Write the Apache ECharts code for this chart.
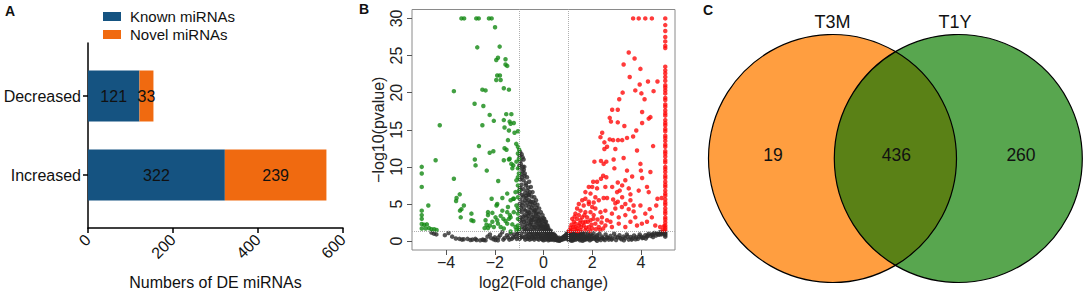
<!DOCTYPE html>
<html><head><meta charset="utf-8">
<script src="https://cdn.jsdelivr.net/npm/echarts@6/dist/echarts.min.js"></script>
<style>html,body{margin:0;padding:0;background:#fff}#c{width:1084px;height:294px}</style>
</head><body><div id="c"></div>
<script>
// ---- Panel A data ----
const barCategories = ['Increased', 'Decreased'];
const knownCounts = [322, 121];
const novelCounts = [239, 33];
const barSeriesNames = ['Known miRNAs', 'Novel miRNAs'];
const barTicks = [0, 200, 400, 600];

// ---- Panel B data ----
const volcanoXTicks = [-4, -2, 0, 2, 4];
const volcanoYTicks = [0, 5, 10, 15, 20, 25, 30];
const foldCutoffs = [-1, 1];
const pCutoffs = [1.3];

const greenPts = [[-3.37,30],[-3.26,30],[-2.76,30],[-2.66,30],[-2.24,30],[-2.13,30],[-1.99,28.8],[-2.72,26.1],[-1.80,26.2],[-1.94,24.4],[-1.87,24.7],[-1.56,24.5],[-1.56,23.8],[-1.49,23.6],[-1.90,22.3],[-1.79,22.3],[-1.94,21.7],[-1.76,21.7],[-2.51,20.4],[-2.38,20.3],[-1.63,20.6],[-1.42,20.4],[-3.68,20.2],[-2.83,18.5],[-2.47,18.2],[-2.21,17.0],[-1.53,17.1],[-1.32,17.1],[-2.51,15.6],[-2.04,16.2],[-1.63,16.3],[-1.39,16.1],[-1.22,15.9],[-4.26,15.6],[-1.60,15.3],[-1.42,14.9],[-1.19,14.6],[-1.05,14.8],[-1.35,15.8],[-1.46,13.6],[-2.65,12.8],[-1.12,13.1],[-1.05,12.7],[-1.00,12.3],[-2.06,12.1],[-2.21,11.9],[-1.60,12.5],[-1.52,12.3],[-2.82,11.0],[-2.79,10.2],[-4.43,10.9],[-1.63,10.9],[-1.42,11.0],[-1.32,10.4],[-1.39,11.1],[-1.05,11.8],[-1.01,11.1],[-1.11,10.7],[-1.05,9.8],[-1.28,9.8],[-1.24,10.2],[-2.33,9.5],[-5.0,10.0],[-5.0,9.1],[-3.68,8.4],[-1.86,8.1],[-1.05,8.6],[-1.11,8.2],[-1.01,9.1],[-5.0,7.3],[-1.05,7.5],[-1.01,6.8],[-1.15,6.6],[-1.05,5.9],[-1.24,5.7],[-3.44,6.3],[-3.57,5.8],[-3.59,5.4],[-2.13,5.7],[-1.90,5.0],[-1.93,4.8],[-1.69,5.8],[-1.49,6.4],[-1.35,5.5],[-1.46,4.6],[-1.69,4.1],[-1.49,3.9],[-1.22,5.7],[-1.11,4.8],[-1.05,4.4],[-1.05,3.7],[-1.22,3.9],[-1.35,3.2],[-1.05,3.0],[-3.27,4.8],[-3.37,4.3],[-3.43,4.1],[-4.73,4.8],[-3.40,3.2],[-2.96,3.7],[-2.96,2.8],[-2.88,2.7],[-5.0,4.1],[-5.0,3.5],[-5.0,3.0],[-5.0,2.3],[-4.90,2.2],[-4.79,2.25],[-5.0,1.7],[-4.84,1.7],[-4.70,1.75],[-4.60,1.6],[-4.49,1.6],[-4.39,1.5],[-2.28,3.9],[-2.10,3.8],[-2.28,3.5],[-2.38,2.8],[-2.34,2.2],[-2.20,2.1],[-2.28,1.75],[-2.42,1.75],[-2.10,2.6],[-1.97,3.2],[-1.90,2.8],[-1.76,3.4],[-1.65,3.0],[-1.87,2.35],[-2.04,1.9],[-1.76,1.9],[-1.56,2.7],[-1.42,3.0],[-1.38,3.5],[-1.49,2.35],[-1.28,2.25],[-1.63,1.7],[-1.15,1.9],[-1.05,2.1],[-1.01,1.7],[-1.11,1.5],[-1.35,1.3]];

const redPts = [[3.68,30],[3.91,30],[4.18,30],[4.45,30],[3.50,25.4],[3.74,24.6],[3.29,23.8],[3.98,23.2],[3.54,22.1],[4.29,21.5],[4.68,21.5],[3.95,21.1],[4.52,20.2],[3.77,20.3],[4.02,19.9],[3.25,20.0],[3.11,19.1],[4.15,19.1],[2.82,17.7],[3.05,17.7],[4.05,17.4],[4.32,16.5],[4.39,16.7],[2.72,16.6],[2.77,16.1],[3.05,16.0],[3.32,15.5],[4.05,15.9],[3.81,14.9],[2.41,14.6],[2.34,14.0],[2.72,13.7],[2.86,13.6],[3.06,13.6],[3.23,13.6],[3.43,13.9],[3.68,14.1],[2.50,13.3],[2.61,12.7],[2.50,12.4],[2.95,12.4],[3.84,12.2],[4.50,12.8],[3.29,11.2],[2.09,10.7],[2.36,10.8],[2.47,10.4],[2.58,10.7],[2.88,11.0],[2.91,9.8],[3.43,9.5],[3.98,10.4],[4.00,9.5],[4.39,9.3],[2.45,8.8],[2.58,8.6],[2.36,8.4],[3.64,8.7],[4.05,8.5],[2.04,8.0],[2.20,8.0],[3.05,7.9],[3.23,7.5],[3.36,8.2],[1.86,7.3],[2.00,7.3],[2.20,7.1],[2.54,7.3],[2.82,7.3],[3.13,6.8],[3.02,6.6],[3.50,7.1],[3.57,6.3],[3.91,6.8],[4.25,7.3],[4.32,6.6],[1.72,6.6],[1.93,6.4],[2.13,5.9],[1.72,5.7],[1.86,5.3],[2.06,5.2],[2.27,5.5],[2.47,5.8],[2.61,5.8],[2.86,5.6],[3.05,5.3],[3.23,5.9],[3.36,5.0],[3.57,5.5],[3.70,4.8],[3.98,4.8],[4.68,5.7],[4.63,4.8],[4.36,4.3],[1.59,5.5],[1.45,5.0],[1.65,4.8],[1.86,5.0],[2.0,4.6],[2.13,4.4],[1.38,4.4],[1.52,4.1],[1.72,3.9],[1.93,3.9],[1.31,3.7],[1.45,3.5],[1.59,3.2],[1.79,3.2],[2.06,3.5],[2.34,3.9],[1.38,3.0],[1.52,2.8],[1.72,2.6],[1.93,2.8],[1.31,2.35],[1.45,2.1],[1.65,2.1],[1.86,1.9],[2.13,2.35],[1.31,1.9],[1.38,1.7],[1.52,1.5],[1.72,1.5],[2.0,1.7],[2.27,1.9],[2.54,2.1],[2.75,2.6],[2.81,1.9],[3.09,2.35],[3.36,1.9],[3.57,2.6],[3.84,2.1],[4.04,2.35],[4.25,2.6],[4.59,2.1],[4.79,1.9],[2.95,5.1],[3.22,4.6],[3.5,4.3],[3.7,4.0],[4.18,3.7],[4.45,3.2],[2.54,4.1],[2.81,3.7],[3.09,3.2],[3.36,3.5],[3.77,3.2],[2.95,4.4],[2.4,3.2],[2.61,2.8],[1.05,1.4],[1.10,1.8],[1.15,2.2],[1.20,1.5],[1.25,2.6],[1.10,1.4],[1.18,3.0],[1.22,1.9],[1.28,3.3],[1.35,1.4],[1.42,1.35],[1.48,2.4],[1.55,1.9],[1.62,2.5],[1.68,3.5],[1.75,1.8],[1.82,2.6],[1.90,1.4],[1.97,2.2],[2.05,3.0],[2.15,1.6],[2.22,2.9],[2.32,1.5],[2.45,1.7],[2.38,2.5],[4.9,1.5],[4.95,2.0],[4.85,5.8],[5,30],[5,29.1],[5,28.3],[5,27.5],[5,26.9],[5,26.3],[5,26.0],[5,23.5],[5,23.0],[5,22.6],[5,22.1],[5,21.6],[5,21.0],[5,20.7],[5,20.3],[5,19.9],[5,19.3],[5,19.0],[5,18.4],[5,18.1],[5,17.6],[5,17.2],[5,16.9],[5,16.3],[5,15.9],[5,15.6],[5,15.1],[5,14.8],[5,14.2],[5,13.9],[5,13.5],[5,13.0],[5,12.7],[5,12.1],[5,11.8],[5,11.4],[5,10.9],[5,10.6],[5,10.0],[5,9.7],[5,9.3],[5,8.8],[5,8.5],[5,8.0],[5,7.6],[5,7.3],[5,6.8],[5,6.4],[5,6.1],[5,5.6],[5,5.2],[5,4.9],[5,4.4],[5,4.0],[5,3.7],[5,3.2],[5,2.9],[5,2.5],[5,2.1],[5,1.8],[5,1.5]];

const grayPts = [[-4.5,1.0],[-3.9,1.1],[-3.75,0.6],[-3.6,0.35],[-3.45,0.3],[-3.28,0.25],[-3.12,0.3],[-2.92,0.2],[-2.75,0.15],[-2.5,0.2],[-2.38,0.1],[-2.2,0.9],[-2.15,0.4],[-2.0,0.5],[-1.97,0.15],[-1.87,0.1],[-1.78,0.8],[-1.7,1.2],[-1.6,0.4],[-1.5,0.8],[-1.4,0.2],[-1.35,1.0],[-1.25,0.5],[-1.2,0.9],[-1.1,0.3],[-1.05,1.2],[-1.0,0.7],[-2.3,0.6],[-2.6,0.1],[-3.0,0.15],
[-0.96,12.0],[-0.90,11.7],[-0.86,11.3],[-0.82,11.0],[-0.93,10.4],[-0.79,10.0],[-0.86,9.4],[-0.77,9.1],[-0.68,8.6],[-0.82,8.2],[-0.59,8.0],[-0.72,7.5],[-0.52,7.3],[-0.66,6.8],[-0.45,6.6],[-0.59,6.2],[-0.38,5.9],[-0.31,5.5],[-0.52,5.3],[-0.25,4.9],[-0.72,4.8],[-0.18,4.4],[-0.11,3.9],[-0.38,4.1],[-0.66,3.7],[-0.04,3.5],[0.03,3.0],[-0.25,3.0],[-0.52,2.8],[0.10,2.6],[0.16,2.1],[-0.11,2.1],[-0.38,1.9],[-0.79,1.7],[0.30,1.4],[0.03,1.4],[-0.25,1.2],[0.44,0.9],[0.16,0.8],[-0.11,0.6],[-0.52,0.8],[0.64,0.45],[0.71,0.2],[0.85,0.45],[0.98,0.8],[1.05,1.2],[-1.07,1.0],[-0.93,0.5],[-0.66,0.3],[-0.38,0.2],[-0.04,0.2],[0.3,0.3],[0.5,0.2],
[-0.98,11.5],[-0.95,10.8],[-0.97,9.8],[-0.92,9.0],[-0.96,8.3],[-0.9,7.6],[-0.94,6.9],[-0.88,6.2],[-0.95,5.6],[-0.85,5.2],[-0.93,4.5],[-0.8,4.3],[-0.9,3.9],[-0.78,3.5],[-0.95,3.2],[-0.85,2.9],[-0.7,2.7],[-0.92,2.4],[-0.75,2.2],[-0.6,2.4],[-0.88,1.9],[-0.65,1.6],[-0.5,1.9],[-0.8,1.3],[-0.55,1.2],[-0.4,1.5],[-0.7,0.9],[-0.45,0.9],[-0.3,1.0],[-0.85,0.6],[-0.6,0.5],[-0.35,0.6],[-0.2,0.7],[-0.75,0.2],[-0.5,0.3],[-0.25,0.3],[-0.1,0.4],[0.05,0.5],[0.15,0.3],[0.25,0.5],[0.35,0.3],[0.45,0.4],[0.2,0.1],[0.0,0.1],
[-0.7,5.8],[-0.62,6.3],[-0.55,5.0],[-0.48,4.5],[-0.65,4.0],[-0.52,3.6],[-0.42,4.8],[-0.35,4.2],[-0.4,3.3],[-0.3,3.7],[-0.22,3.2],[-0.45,2.8],[-0.32,2.6],[-0.18,2.8],[-0.1,2.5],[-0.55,2.2],[-0.25,2.1],[-0.05,2.0],[0.05,2.3],[0.1,1.8],[-0.15,1.6],[0.02,1.5],[0.2,1.6],[0.28,1.2],[0.12,1.1],[-0.08,1.1],[0.38,0.9],[0.22,0.8],[0.05,0.8],[0.5,0.6],[0.3,0.7],[-0.72,7.8],[-0.78,8.8],[-0.85,10.0],[-0.82,7.0],[-0.75,6.5],[-0.6,4.6],[-0.7,3.2],[-0.58,3.0],
[0.55,0.1],[0.65,0.05],[0.7,0.3],[0.8,0.5],[0.88,0.7],[0.95,1.0],[1.0,1.2],
[1.02,0.3],[1.05,0.7],[1.08,1.0],[1.1,0.2],[1.12,0.5],[1.15,0.9],[1.18,1.2],[1.2,0.1],[1.22,0.6],[1.25,0.35],[1.28,1.0],[1.3,0.8],[1.33,0.2],[1.36,0.5],[1.4,1.1],[1.42,0.7],[1.45,0.3],[1.48,0.9],[1.5,0.1],[1.53,0.55],[1.56,1.2],[1.6,0.35],[1.63,0.8],[1.66,0.15],[1.7,1.0],[1.73,0.5],[1.76,0.25],[1.8,0.75],[1.83,1.15],[1.86,0.4],[1.9,0.1],[1.93,0.9],[1.96,0.6],[2.0,0.3],[2.05,1.1],[2.1,0.5],[2.15,0.2],[2.2,0.8],[2.25,0.4],[2.3,1.0],[2.35,0.15],[2.4,0.6],[2.48,0.3],[2.55,0.9],[2.6,0.5],[2.68,0.2],[2.75,0.7],[2.82,0.35],[2.9,1.0],[2.98,0.15],[3.05,0.5],[3.12,0.8],[3.2,0.25],[3.28,0.6],[3.35,0.4],[3.42,0.9],[3.5,0.2],[3.58,0.55],[3.65,0.35],[3.72,0.75],[3.8,0.5],[3.88,0.3],[3.95,0.9],[4.02,0.6],[4.1,0.45],[4.18,0.8],[4.25,0.6],[4.32,1.0],[4.4,0.7],[4.48,0.85],[4.55,1.1],[4.62,0.75],[4.7,0.95],[4.78,1.2],[4.85,0.9],[4.92,1.05],[5.0,0.6],[5.0,0.8],[5.0,1.0],[5.0,1.2],[4.95,1.25],[4.88,1.15],[4.5,0.55],[4.2,0.35],[3.3,0.1],[2.2,0.05],[1.6,0.05],[1.15,0.05],
[-0.99,10.2],[-0.97,7.2],[-0.99,6.5],[-0.98,5.0],[-0.99,4.1],[-0.97,2.8],[-0.99,1.5],[-0.98,0.3],[-0.91,1.1],[-0.89,8.6],[-0.87,4.8],[-0.83,3.3],[-0.83,6.0],[-0.81,9.6],[-0.8,2.6],[-0.78,0.5],[-0.76,5.5],[-0.74,4.1],[-0.73,1.5],[-0.71,6.1],[-0.69,2.0],[-0.67,5.2],[-0.66,0.7],[-0.64,3.4],[-0.63,7.2],[-0.61,1.2],[-0.6,5.5],[-0.58,3.8],[-0.57,0.2],[-0.56,6.6],[-0.54,1.6],[-0.53,4.2],[-0.51,2.5],[-0.49,6.0],[-0.48,0.6],[-0.47,3.2],[-0.46,1.3],[-0.44,5.3],[-0.43,2.2],[-0.41,0.4],[-0.4,3.9],[-0.38,2.9],[-0.37,1.0],[-0.36,5.1],[-0.34,1.8],[-0.33,3.4],[-0.31,0.5],[-0.29,4.5],[-0.28,2.4],[-0.27,1.5],[-0.26,3.9],[-0.24,0.9],[-0.23,2.7],[-0.21,1.9],[-0.2,3.6],[-0.19,0.2],[-0.17,1.2],[-0.16,2.3],[-0.14,3.1],[-0.13,0.8],[-0.12,1.8],[-0.09,2.9],[-0.08,0.3],[-0.06,1.4],[-0.05,2.6],[-0.03,0.7],[-0.02,1.9],[0.0,3.1],[0.01,1.1],[0.03,0.4],[0.04,2.0],[0.06,1.6],[0.07,2.6],[0.08,0.2],[0.09,1.3],[0.11,0.7],[0.13,2.1],[0.14,1.5],[0.16,0.5],[0.18,1.2],[0.19,1.8],[0.21,0.3],[0.23,1.4],[0.24,0.9],[0.26,0.2],[0.27,1.0],[0.29,0.6],[0.31,1.1],[0.33,0.2],[0.34,0.8],[0.36,0.5],[0.37,1.0],[0.39,0.3],[0.41,0.6],[0.42,0.8],[0.43,0.15],[0.46,0.5],[0.48,0.25],[0.49,0.7],[0.52,0.4],[0.54,0.3],[0.57,0.15],[0.58,0.4],[0.61,0.1],[0.63,0.2],[0.68,0.1],[0.73,0.25],[0.76,0.4],[0.78,0.2],[0.82,0.35],[0.83,0.6],[0.86,0.3],[0.9,0.45],[0.92,0.8],[0.94,0.35],[0.97,0.6],[0.99,0.4],[1.01,0.95],[1.03,0.15],[1.04,0.5],[1.07,0.35],[1.09,0.75],[1.11,1.1],[1.13,0.3],[1.16,0.65],[1.19,0.4],[1.21,0.9],[1.24,0.15],[1.26,0.75],[1.29,0.5],[1.31,1.2],[1.34,0.65],[1.38,0.3],[1.39,0.85],[1.44,1.0],[1.46,0.55],[1.51,0.8],[1.54,0.25],[1.58,0.65],[1.62,1.05],[1.67,0.5],[1.71,0.25],[1.78,0.55],[1.82,0.3],[1.88,0.7],[1.95,0.25],[2.02,0.7],[2.08,0.35],[2.18,0.6],[2.28,0.3],[2.42,0.4],[2.52,0.15],[2.65,0.45],[2.8,0.2],[2.95,0.6],[3.15,0.4],[3.45,0.6],[3.62,0.2],[3.78,0.25],[3.92,0.6],[4.05,0.4],[4.28,0.75],[4.45,0.9],[4.65,1.0],[4.75,0.85],[4.82,1.0],[4.9,1.2],[4.97,1.1],[-1.15,0.6],[-1.3,0.3],[-1.45,0.5],[-1.65,0.2],[-1.85,0.5],[-2.05,0.25],[-2.45,0.15],[-2.8,0.3],[-3.35,0.2],[-4.05,0.8],[-4.6,1.15],[-4.4,0.9]];

// ---- Panel C data ----
const vennSets = ['T3M', 'T1Y'];
const vennCounts = [19, 436, 260]; // T3M only, shared, T1Y only

const FONT = '"Liberation Sans", Arial, sans-serif';
const colKnown = '#155381', colNovel = '#F06A10';

// Venn geometry (layout only)
const L = {cx: 832.5, cy: 158.5, r: 124}, R = {cx: 958.3, cy: 158.5, r: 124};
const dd = R.cx - L.cx, ix = L.cx + dd / 2, iy = Math.sqrt(L.r * L.r - (dd / 2) * (dd / 2));
const lensPath = `M ${ix} ${L.cy - iy} A ${L.r} ${L.r} 0 0 1 ${ix} ${L.cy + iy} A ${R.r} ${R.r} 0 0 1 ${ix} ${L.cy - iy} Z`;

function txt(text, x, y, size, bold) {
  return {type: 'text', silent: true, style: {text: String(text), x, y, fill: '#111',
    font: (bold ? 'bold ' : '') + size + 'px ' + FONT, align: 'center', verticalAlign: 'middle',
    textAlign: 'center', textVerticalAlign: 'middle'}};
}

function renderVenn(params, api) {
  return {
    type: 'group',
    children: [
      {type: 'circle', shape: {cx: L.cx, cy: L.cy, r: L.r}, style: {fill: '#FF9E40'}},
      {type: 'circle', shape: {cx: R.cx, cy: R.cy, r: R.r}, style: {fill: '#58A64F'}},
      {type: 'path', shape: {pathData: lensPath}, style: {fill: '#5A8116'}},
      {type: 'circle', shape: {cx: L.cx, cy: L.cy, r: L.r}, style: {fill: 'none', stroke: '#000', lineWidth: 1.2}},
      {type: 'circle', shape: {cx: R.cx, cy: R.cy, r: R.r}, style: {fill: 'none', stroke: '#000', lineWidth: 1.2}},
      txt(vennSets[0], L.cx, 22, 18, false),
      txt(vennSets[1], 955, 22, 18, false),
      txt(vennCounts[0], 773, 155, 17.5, false),
      txt(vennCounts[1], ix + 1, 155, 17.5, false),
      txt(vennCounts[2], 1021, 155, 17.5, false)
    ]
  };
}

const chart = echarts.init(document.getElementById('c'), null, {renderer: 'svg'});
chart.setOption({
  animation: false,
  textStyle: {fontFamily: FONT},
  legend: {
    data: barSeriesNames, orient: 'vertical', left: 103, top: 9, padding: 0, itemWidth: 18, itemHeight: 9,
    itemGap: 3, icon: 'rect', textStyle: {fontSize: 15, color: '#111', padding: [0, 0, 0, 4]}
  },
  grid: [
    {left: 88, top: 56.5, width: 255, height: 158, containLabel: false, outerBoundsMode: 'none'},
    {left: 88, top: 43, width: 255, height: 185, containLabel: false, outerBoundsMode: 'none'},
    {left: 412, top: 9.5, width: 263, height: 240.5, show: true, borderColor: '#8a8a8a', borderWidth: 1,
     backgroundColor: 'transparent', containLabel: false, outerBoundsMode: 'none'}
  ],
  xAxis: [
    {gridIndex: 0, type: 'value', min: barTicks[0], max: barTicks[barTicks.length - 1], interval: 200, offset: 13.5,
     axisLine: {show: true, onZero: false, lineStyle: {color: '#000', width: 1.5}},
     axisTick: {show: true, length: 5, lineStyle: {color: '#000', width: 1.5}},
     axisLabel: {rotate: 45, fontSize: 16, color: '#111', margin: 9},
     splitLine: {show: false},
     name: 'Numbers of DE miRNAs', nameLocation: 'middle', nameGap: 46, nameTextStyle: {fontSize: 16, color: '#111'}},
    {gridIndex: 1, type: 'value', min: 0, max: 600, show: false},
    {gridIndex: 2, type: 'value', min: -5.4, max: 5.4,
     axisLine: {show: false, onZero: false},
     axisTick: {show: true, length: 5, customValues: volcanoXTicks, lineStyle: {color: '#555'}},
     axisLabel: {fontSize: 16, color: '#222', margin: 4, customValues: volcanoXTicks,
       formatter: v => (v < 0 ? '\u2212' + Math.abs(v) : String(v))},
     splitLine: {show: false},
     name: 'log2(Fold change)', nameLocation: 'middle', nameGap: 23, nameTextStyle: {fontSize: 16, color: '#222'}}
  ],
  yAxis: [
    {gridIndex: 0, type: 'category', data: barCategories,
     axisLine: {show: false},
     axisTick: {show: true, alignWithLabel: true, length: 5, lineStyle: {color: '#000', width: 1.5}},
     axisLabel: {fontSize: 16, color: '#111', margin: 7}},
    {gridIndex: 1, type: 'value', min: 0, max: 1,
     axisLine: {show: true, onZero: false, lineStyle: {color: '#000', width: 1.5}},
     axisTick: {show: false}, axisLabel: {show: false}, splitLine: {show: false}},
    {gridIndex: 2, type: 'value', min: -1.2, max: 31.2,
     axisLine: {show: false, onZero: false},
     axisTick: {show: true, length: 5, customValues: volcanoYTicks, lineStyle: {color: '#555'}},
     axisLabel: {fontSize: 16, color: '#222', rotate: 90, margin: 8, customValues: volcanoYTicks},
     splitLine: {show: false},
     name: '\u2212log10(pvalue)', nameLocation: 'middle', nameGap: 26, nameTextStyle: {fontSize: 16, color: '#222'}}
  ],
  series: [
    {name: barSeriesNames[0], type: 'bar', stack: 'de', xAxisIndex: 0, yAxisIndex: 0, barWidth: 51,
     data: knownCounts, itemStyle: {color: colKnown},
     label: {show: true, position: 'inside', fontSize: 16, color: '#111'}},
    {name: barSeriesNames[1], type: 'bar', stack: 'de', xAxisIndex: 0, yAxisIndex: 0, barWidth: 51,
     data: novelCounts, itemStyle: {color: colNovel},
     label: {show: true, position: 'inside', fontSize: 16, color: '#111'}},
    {type: 'scatter', xAxisIndex: 2, yAxisIndex: 2, data: grayPts, symbolSize: 4.5,
     itemStyle: {color: '#2c2c2c'}, silent: true,
     markLine: {silent: true, symbol: 'none', label: {show: false},
       lineStyle: {type: 'dotted', color: '#b0b0b0', width: 1},
       data: [...foldCutoffs.map(v => ({xAxis: v})), ...pCutoffs.map(v => ({yAxis: v}))]}},
    {type: 'scatter', xAxisIndex: 2, yAxisIndex: 2, data: greenPts, symbolSize: 4.5,
     itemStyle: {color: '#138813'}, silent: true},
    {type: 'scatter', xAxisIndex: 2, yAxisIndex: 2, data: redPts, symbolSize: 4.5,
     itemStyle: {color: '#FF0A0A'}, silent: true},
    {type: 'custom', coordinateSystem: 'none', silent: true, data: [vennCounts], renderItem: renderVenn}
  ],
  graphic: [
    txt('A', 10, 11, 14, true),
    txt('B', 364, 9, 14, true),
    txt('C', 708, 10, 14, true)
  ]
});
</script></body></html>
